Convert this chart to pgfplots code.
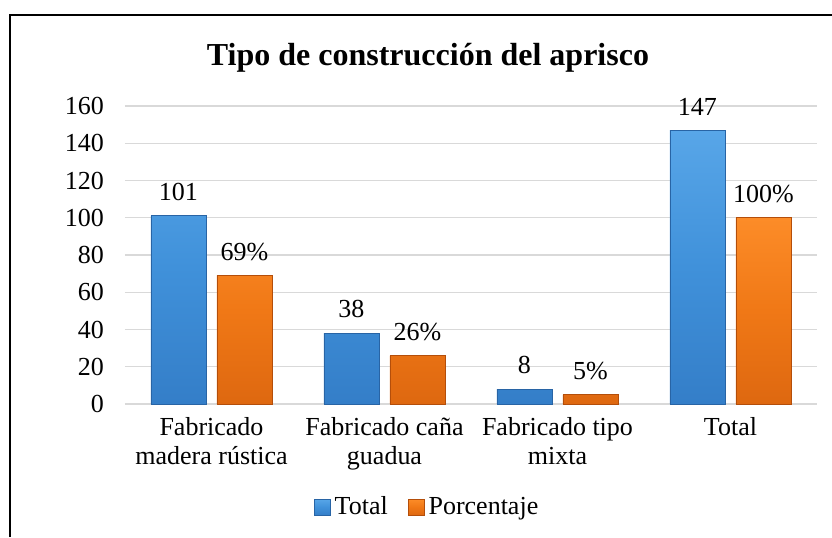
\documentclass[border=0pt]{standalone}
\usepackage{fontspec}
\setmainfont{Liberation Serif}
\usepackage{pgfplots}
\pgfplotsset{compat=1.18}
\definecolor{barBlue}{RGB}{64,145,218}
\definecolor{barBlueTop}{RGB}{88,166,232}
\definecolor{barBlueBot}{RGB}{52,126,200}
\definecolor{barBlueDark}{RGB}{40,100,165}
\definecolor{barOrange}{RGB}{240,120,22}
\definecolor{barOrangeTop}{RGB}{252,140,40}
\definecolor{barOrangeBot}{RGB}{222,104,16}
\definecolor{barOrangeDark}{RGB}{180,78,10}
\definecolor{gridGray}{RGB}{217,217,217}

\begin{document}
\begin{tikzpicture}
\path[use as bounding box] (0pt,0pt) rectangle (416pt,268.5pt);
% frame (only top and left edges visible in the crop)
\draw[line width=1.1pt, black] (5pt,0pt) -- (5pt,261pt) -- (416pt,261pt);
\node[font=\fontsize{16}{18}\selectfont\bfseries] at (214pt,239.5pt) {Tipo de construcción del aprisco};
\begin{axis}[
  at={(62.5pt,66.5pt)}, anchor=south west,
  scale only axis, width=346pt, height=149pt,
  xmin=-0.5, xmax=3.5, ymin=0, ymax=160,
  ytick={0,20,...,160},
  xtick={0,1,2,3},
  xticklabels={Fabricado\\madera rústica, Fabricado caña\\guadua, Fabricado tipo\\mixta, Total},
  xticklabel style={align=center, font=\fontsize{13}{14.5}\selectfont, yshift=-3pt},
  yticklabel style={font=\fontsize{13}{13}\selectfont, xshift=-7pt},
  /pgf/number format/assume math mode=true,
  ymajorgrids, grid style={gridGray, line width=0.6pt},
  axis x line*=bottom, axis y line*=left,
  y axis line style={draw=none},
  x axis line style={gridGray, line width=1.2pt, -},
  major tick length=0pt,
  ybar, bar width=27.5pt,
  nodes near coords,
  every node near coord/.append style={font=\fontsize{13}{13}\selectfont, yshift=4pt},
  legend style={at={(0.438,-0.346)}, anchor=center, draw=none, fill=none,
    font=\fontsize{13}{13}\selectfont, legend columns=2,
    /tikz/every even column/.append style={column sep=8pt}},
  legend image code/.code={\fill[#1] (0pt,-4pt) rectangle (8pt,4pt);},
  clip=false,
]
\addplot[bar shift=-16.5pt, draw=barBlueDark, top color=barBlueTop, bottom color=barBlueBot, middle color=barBlue, shading=axis]
  coordinates {(0,101) (1,38) (2,8) (3,147)};
\addplot[bar shift=16.5pt, draw=barOrangeDark, top color=barOrangeTop, bottom color=barOrangeBot, middle color=barOrange, shading=axis,
  nodes near coords={\pgfmathprintnumber{\pgfplotspointmeta}\%}]
  coordinates {(0,69) (1,26) (2,5) (3,100)};
\legend{Total, Porcentaje}
\end{axis}
\end{tikzpicture}
\end{document}
